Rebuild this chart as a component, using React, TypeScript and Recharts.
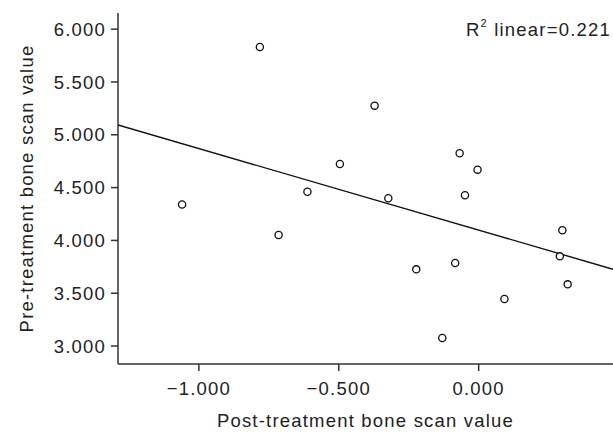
import React from 'react';
import { ScatterChart, Scatter, XAxis, YAxis } from 'recharts';

const postValues = [-1.06, -0.782, -0.715, -0.612, -0.496, -0.372, -0.323, -0.223, -0.13, -0.084, -0.068, -0.049, -0.004, 0.092, 0.29, 0.299, 0.318];
const preValues = [4.34, 5.831, 4.051, 4.461, 4.723, 5.276, 4.399, 3.726, 3.076, 3.786, 4.825, 4.427, 4.67, 3.445, 3.849, 4.096, 3.584];
const fitPost = [-1.289, 0.48];
const fitPre = [5.093, 3.727];
const xTicks = [-1, -0.5, 0];
const yTicks = [3, 3.5, 4, 4.5, 5, 5.5, 6];
const xTitle = 'Post-treatment bone scan value';
const yTitle = 'Pre-treatment bone scan value';
const r2Text = 'linear=0.221';

const points = postValues.map((x, i) => ({ x, y: preValues[i] }));
const fitData = fitPost.map((x, i) => ({ x, y: fitPre[i] }));

const fmt = (v: number) => (v < 0 ? '\u2212' : '') + Math.abs(v).toFixed(3);

const FONT = '"Liberation Sans", Arial, sans-serif';
const axisColor = '#333333';
const tickStyle = { fontFamily: FONT, fontSize: 18.5, fill: '#222', letterSpacing: 1.2 };

const Ring = (props: any) => {
  const { cx, cy } = props;
  if (cx == null || cy == null) return null;
  return <circle cx={cx} cy={cy} r={3.6} fill="#fff" stroke="#111" strokeWidth={1.3} />;
};

export default function App() {
  return (
    <div style={{ position: 'absolute', left: 0, top: 0, width: 613, height: 434, background: '#fff' }}>
      <ScatterChart width={613} height={434} margin={{ top: 13, right: 0, bottom: 0, left: 0 }}>
        <XAxis
          type="number"
          dataKey="x"
          domain={[-1.289, 0.48]}
          allowDataOverflow
          ticks={xTicks}
          tickFormatter={fmt}
          height={70}
          tickSize={7}
          tickMargin={11}
          stroke={axisColor}
          strokeWidth={1.5}
          tick={tickStyle}
        />
        <YAxis
          type="number"
          dataKey="y"
          domain={[2.83, 6.153]}
          allowDataOverflow
          ticks={yTicks}
          tickFormatter={fmt}
          width={118}
          tickSize={7}
          tickMargin={5}
          stroke={axisColor}
          strokeWidth={1.5}
          tick={tickStyle}
        />
        <Scatter
          data={fitData}
          line={{ stroke: '#111', strokeWidth: 1.4 }}
          shape={() => null}
          isAnimationActive={false}
        />
        <Scatter data={points} shape={<Ring />} isAnimationActive={false} />
        <text
          x={365.5}
          y={427}
          textAnchor="middle"
          style={{ fontFamily: FONT, fontSize: 18.5, fill: '#222', letterSpacing: 1.2 }}
        >
          {xTitle}
        </text>
        <text
          x={0}
          y={0}
          transform="translate(33,188.5) rotate(-90)"
          textAnchor="middle"
          style={{ fontFamily: FONT, fontSize: 18.5, fill: '#222', letterSpacing: 1.2 }}
        >
          {yTitle}
        </text>
        <text
          x={611}
          y={36}
          textAnchor="end"
          style={{ fontFamily: FONT, fontSize: 18.5, fill: '#222', letterSpacing: 1.2 }}
        >
          R<tspan dy={-9} style={{ fontSize: 11 }}>2</tspan>
          <tspan dy={9}> {r2Text}</tspan>
        </text>
      </ScatterChart>
    </div>
  );
}
